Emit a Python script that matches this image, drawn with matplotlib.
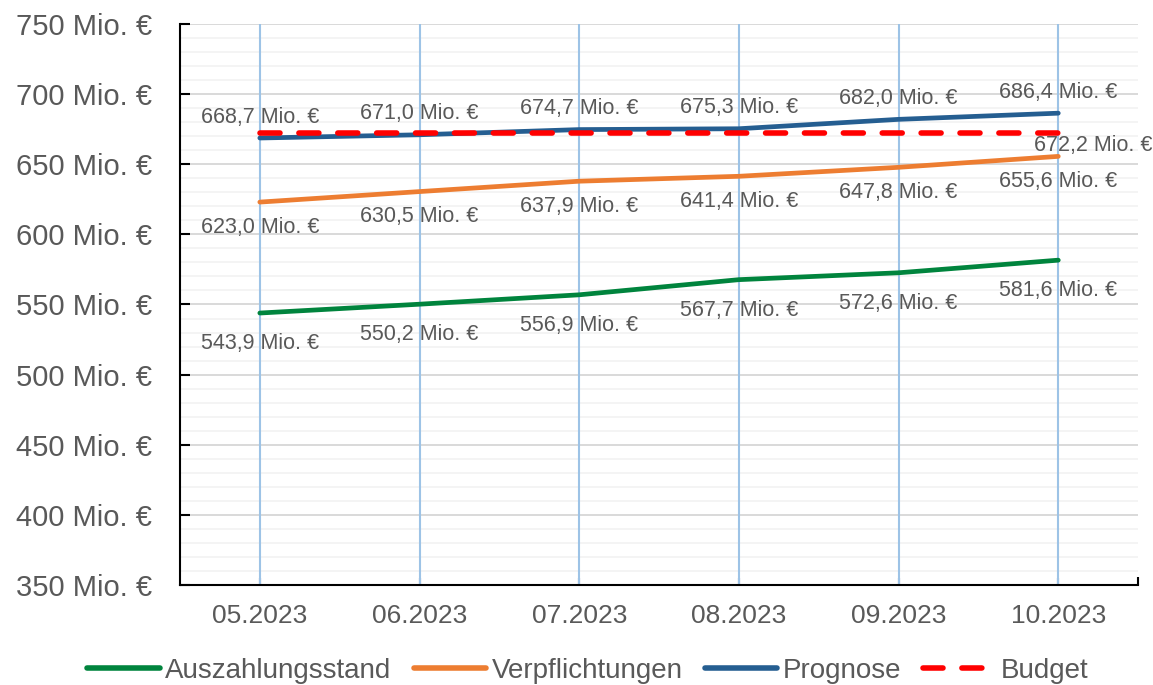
import numpy as np
import matplotlib.pyplot as plt
from matplotlib.ticker import MultipleLocator, FuncFormatter

plt.rcParams['font.family'] = ['Liberation Sans', 'DejaVu Sans']

months = ['05.2023', '06.2023', '07.2023', '08.2023', '09.2023', '10.2023']
auszahlung = [543.9, 550.2, 556.9, 567.7, 572.6, 581.6]
verpflichtungen = [623.0, 630.5, 637.9, 641.4, 647.8, 655.6]
prognose = [668.7, 671.0, 674.7, 675.3, 682.0, 686.4]
budget = [672.2, 672.2, 672.2, 672.2, 672.2, 672.2]

txt = '#595959'

def mio(v):
    return f'{v:.1f}'.replace('.', ',') + ' Mio. €'

fig = plt.figure(figsize=(11.53, 6.85), dpi=100)
ax = fig.add_axes([0.1561, 0.146, 0.831, 0.819])

x = np.arange(len(months))

# vertical category lines on top of the horizontal grid
for i in x:
    ax.axvline(i, color='#9DC3E6', lw=1.5, zorder=1)

ax.plot(x, auszahlung, color='#00843D', lw=3.4, solid_capstyle='round', label='Auszahlungsstand', zorder=3)
ax.plot(x, verpflichtungen, color='#ED7D31', lw=3.4, solid_capstyle='round', label='Verpflichtungen', zorder=3)
ax.plot(x, prognose, color='#255E91', lw=3.4, solid_capstyle='round', label='Prognose', zorder=3)
ax.plot(x, budget, color='#FF0000', lw=4, dashes=(3.6, 3.4), dash_capstyle='round',
        label='Budget', zorder=4)

# data labels
for i in x:
    ax.annotate(mio(prognose[i]), (i, prognose[i]), xytext=(0, 15), textcoords='offset points',
                ha='center', va='center', fontsize=15.5, color=txt)
    ax.annotate(mio(verpflichtungen[i]), (i, verpflichtungen[i]), xytext=(0, -18), textcoords='offset points',
                ha='center', va='center', fontsize=15.5, color=txt)
    ax.annotate(mio(auszahlung[i]), (i, auszahlung[i]), xytext=(0, -22), textcoords='offset points',
                ha='center', va='center', fontsize=15.5, color=txt)
ax.annotate(mio(budget[-1]), (x[-1], budget[-1]), xytext=(25, -9), textcoords='offset points',
            ha='center', va='center', fontsize=15.5, color=txt)

ax.set_xlim(-0.5, 5.5)
ax.set_ylim(350, 750)
ax.set_xticks(x)
ax.set_xticklabels(months)
ax.set_xticks([5.5], minor=True)
ax.yaxis.set_major_locator(MultipleLocator(50))
ax.yaxis.set_minor_locator(MultipleLocator(10))
ax.yaxis.set_major_formatter(FuncFormatter(lambda v, p: f'{v:.0f} Mio. €'))

ax.grid(axis='y', which='minor', color='#F2F2F2', lw=1.2, zorder=0)
ax.grid(axis='y', which='major', color='#D9D9D9', lw=1.4, zorder=0)
ax.set_axisbelow(True)

for s in ['top', 'right']:
    ax.spines[s].set_visible(False)
for s in ['left', 'bottom']:
    ax.spines[s].set_color('black')
    ax.spines[s].set_linewidth(1.5)
    ax.spines[s].set_zorder(5)

ax.tick_params(axis='y', which='major', direction='in', length=7, width=1.5, color='black',
               labelsize=21, labelcolor=txt, pad=20)
ax.tick_params(axis='y', which='minor', length=0)
ax.tick_params(axis='x', which='major', direction='in', length=5, width=1.5, color='#1F3864',
               labelsize=19, labelcolor=txt, pad=14)
ax.tick_params(axis='x', which='minor', direction='in', length=6, width=1.5, color='black')

leg = fig.legend(loc='lower center', bbox_to_anchor=(0.51, -0.035), ncol=4, frameon=False,
                 fontsize=20, handlelength=2.6, handletextpad=0.2, columnspacing=0.8, labelcolor=txt)
for h in leg.get_lines():
    h.set_linewidth(4)

fig.savefig('out.png', dpi=100)
